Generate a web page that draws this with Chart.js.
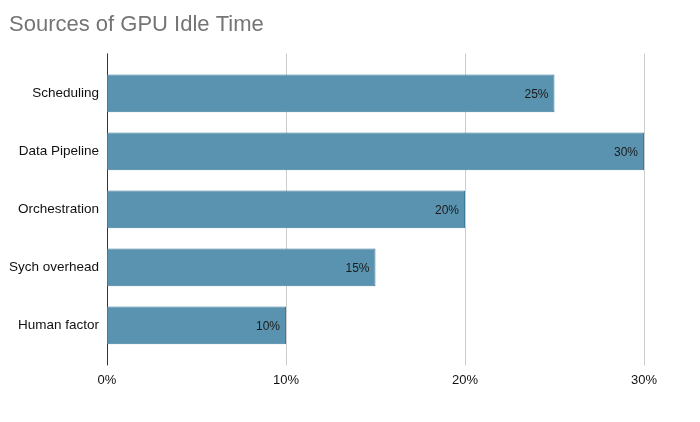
<!DOCTYPE html>
<html>
<head>
<meta charset="utf-8">
<script src="https://cdn.jsdelivr.net/npm/chart.js@4"></script>
<style>
  html, body { margin: 0; padding: 0; background: #fff; }
  #wrap { width: 700px; height: 422px; }
</style>
</head>
<body>
<div id="wrap"><canvas id="idleChart"></canvas></div>
<script>
const categories = ["Scheduling", "Data Pipeline", "Orchestration", "Sych overhead", "Human factor"];
const idlePercent = [25, 30, 20, 15, 10];
const xTicks = [0, 10, 20, 30];

// grid lines run a bit past the bars, like the original sheet chart
const extendedGrid = {
    id: "extendedGrid",
    beforeDatasetsDraw(chart) {
        const ctx = chart.ctx;
        const area = chart.chartArea;
        const xs = chart.scales.x;
        ctx.save();
        ctx.lineWidth = 1;
        xTicks.forEach(t => {
            const x = Math.round(xs.getPixelForValue(t)) + 0.5;
            ctx.strokeStyle = t === 0 ? "#333333" : "#cccccc";
            ctx.beginPath();
            ctx.moveTo(x, area.top - 11);
            ctx.lineTo(x, area.bottom + 11);
            ctx.stroke();
        });
        ctx.restore();
    },
    afterDatasetsDraw(chart) {
        const ctx = chart.ctx;
        const meta = chart.getDatasetMeta(0);
        ctx.save();
        ctx.font = "12px 'Liberation Sans', Arial, sans-serif";
        ctx.fillStyle = "#1a1a1a";
        ctx.textAlign = "right";
        ctx.textBaseline = "middle";
        meta.data.forEach((bar, i) => {
            ctx.fillText(idlePercent[i] + "%", bar.x - 6, bar.y + 1);
        });
        ctx.restore();
    }
};

const ctx = document.getElementById("idleChart").getContext("2d");
new Chart(ctx, {
    type: "bar",
    data: {
        labels: categories,
        datasets: [{
            data: idlePercent,
            backgroundColor: "#5a93b0",
            borderColor: "#3f7b9c",
            borderWidth: 1,
            borderSkipped: false,
            barPercentage: 0.65,
            categoryPercentage: 1.0
        }]
    },
    options: {
        indexAxis: "y",
        responsive: true,
        maintainAspectRatio: false,
        animation: false,
        layout: { padding: { left: 9, right: 56, top: 0, bottom: 23 } },
        plugins: {
            legend: { display: false },
            tooltip: { enabled: false },
            title: {
                display: true,
                text: "Sources of GPU Idle Time",
                align: "start",
                color: "#757575",
                font: { family: "'Liberation Sans', Arial, sans-serif", size: 22, weight: "normal" },
                padding: { top: 12, bottom: 26 }
            }
        },
        scales: {
            x: {
                min: 0,
                max: 30,
                grid: { display: false },
                border: { display: false },
                ticks: {
                    stepSize: 10,
                    padding: 10.5,
                    color: "#111",
                    font: { family: "'Liberation Sans', Arial, sans-serif", size: 13 },
                    callback: v => v + "%"
                }
            },
            y: {
                grid: { display: false },
                border: { display: false },
                afterFit(scale) { scale.width = 98; },
                ticks: {
                    padding: 0,
                    color: "#111",
                    font: { family: "'Liberation Sans', Arial, sans-serif", size: 13.5 }
                }
            }
        }
    },
    plugins: [extendedGrid]
});
</script>
</body>
</html>
